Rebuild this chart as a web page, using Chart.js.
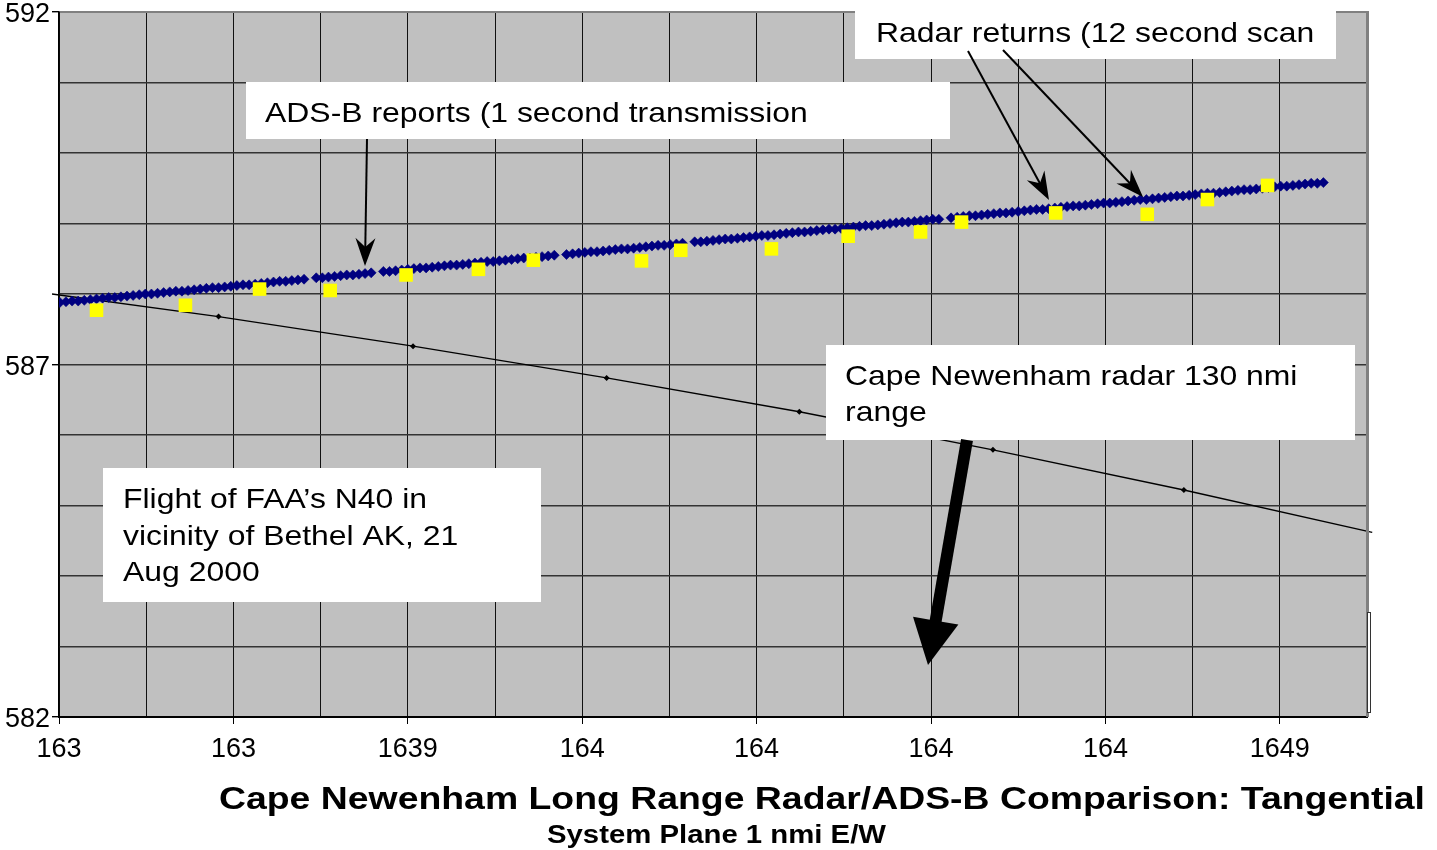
<!DOCTYPE html>
<html><head><meta charset="utf-8">
<script src="https://cdn.jsdelivr.net/npm/chart.js@4.4.1/dist/chart.umd.min.js"></script>
<style>html,body{margin:0;padding:0;background:#fff;}#wrap{width:1437px;height:850px;position:relative;}</style>
</head><body><div id="wrap"><canvas id="c"></canvas></div>
<script>
const FONT = '"Liberation Sans", Arial, Helvetica, sans-serif';

// ---- axis ticks ----
const xTickValues = [1635, 1637, 1639, 1641, 1643, 1645, 1647, 1649];
const xTickLabels = ['163', '163', '1639', '164', '164', '164', '164', '1649'];
const yTickValues = [582, 587, 592];
const yTickLabels = ['582', '587', '592'];

// ---- ADS-B reports (1 s) ----
const adsbX = [
1635.01,1635.08,1635.15,1635.22,1635.29,1635.36,1635.43,1635.50,1635.57,1635.64,
1635.71,1635.78,1635.85,1635.92,1635.99,1636.06,1636.13,1636.20,1636.27,1636.34,
1636.41,1636.48,1636.55,1636.62,1636.69,1636.76,1636.83,1636.90,1636.97,1637.04,
1637.11,1637.18,1637.25,1637.32,1637.39,1637.46,1637.53,1637.60,1637.67,1637.74,
1637.81,
1637.95,1638.02,1638.09,1638.16,1638.23,1638.30,1638.37,1638.44,1638.51,1638.58,
1638.72,1638.79,1638.86,1638.93,1639.00,1639.07,1639.14,1639.21,1639.28,1639.35,
1639.42,1639.49,1639.56,1639.63,1639.70,1639.77,1639.84,1639.91,1639.98,1640.05,
1640.12,1640.19,1640.26,1640.33,1640.40,1640.47,1640.54,1640.61,1640.68,
1640.82,1640.89,1640.96,1641.03,1641.10,1641.17,1641.24,1641.31,1641.38,1641.45,
1641.52,1641.59,1641.66,1641.73,1641.80,1641.87,1641.94,1642.01,1642.08,1642.15,
1642.29,1642.36,1642.43,1642.50,1642.57,1642.64,1642.71,1642.78,1642.85,1642.92,
1642.99,1643.06,1643.13,1643.20,1643.27,1643.34,1643.41,1643.48,1643.55,1643.62,
1643.69,1643.76,1643.83,1643.90,1643.97,1644.04,1644.11,1644.18,1644.25,1644.32,
1644.39,1644.46,1644.53,1644.60,1644.67,1644.74,1644.81,1644.88,1644.95,1645.02,
1645.09,
1645.23,1645.30,1645.37,1645.44,1645.51,1645.58,1645.65,1645.72,1645.79,1645.86,
1645.93,1646.00,1646.07,1646.14,1646.21,1646.28,1646.35,1646.42,1646.49,1646.56,
1646.63,1646.70,1646.77,1646.84,1646.91,1646.98,1647.05,1647.12,1647.19,1647.26,
1647.33,1647.40,1647.47,1647.54,1647.61,1647.68,1647.75,1647.82,1647.89,1647.96,
1648.03,1648.10,1648.17,1648.24,1648.31,1648.38,1648.45,1648.52,1648.59,1648.66,
1648.73,1648.80,1648.87,1648.94,1649.01,1649.08,1649.15,1649.22,1649.29,1649.36,
1649.43,1649.50
];
const adsbY = [
587.88,587.89,587.90,587.90,587.91,587.92,587.93,587.94,587.95,587.95,
587.96,587.97,587.98,587.99,588.00,588.00,588.01,588.02,588.03,588.04,
588.04,588.05,588.06,588.07,588.08,588.09,588.09,588.10,588.11,588.12,
588.13,588.13,588.14,588.15,588.16,588.17,588.18,588.18,588.19,588.20,
588.21,
588.23,588.23,588.24,588.25,588.26,588.27,588.27,588.28,588.29,588.30,
588.32,588.32,588.33,588.34,588.35,588.36,588.37,588.37,588.38,588.39,
588.40,588.41,588.41,588.42,588.43,588.44,588.45,588.46,588.46,588.47,
588.48,588.49,588.50,588.51,588.51,588.52,588.53,588.54,588.55,
588.56,588.57,588.58,588.59,588.60,588.60,588.61,588.62,588.63,588.64,
588.64,588.65,588.66,588.67,588.68,588.69,588.69,588.70,588.71,588.72,
588.74,588.74,588.75,588.76,588.77,588.78,588.78,588.79,588.80,588.81,
588.82,588.83,588.83,588.84,588.85,588.86,588.87,588.88,588.88,588.89,
588.90,588.91,588.92,588.92,588.93,588.94,588.95,588.96,588.97,588.97,
588.98,588.99,589.00,589.01,589.02,589.02,589.03,589.04,589.05,589.06,
589.06,
589.08,589.09,589.10,589.11,589.11,589.12,589.13,589.14,589.15,589.15,
589.16,589.17,589.18,589.19,589.20,589.20,589.21,589.22,589.23,589.24,
589.25,589.25,589.26,589.27,589.28,589.29,589.29,589.30,589.31,589.32,
589.33,589.34,589.34,589.35,589.36,589.37,589.38,589.39,589.39,589.40,
589.41,589.42,589.43,589.43,589.44,589.45,589.46,589.47,589.48,589.48,
589.49,589.50,589.51,589.52,589.53,589.53,589.54,589.55,589.56,589.57,
589.57,589.58
];

// ---- Radar returns (12 s scan) ----
const radarX = [1635.43,1636.45,1637.30,1638.11,1638.98,1639.81,1640.44,1641.68,1642.13,1643.17,1644.05,1644.88,1645.35,1646.43,1647.48,1648.17,1648.86];
const radarY = [587.77,587.84,588.07,588.05,588.27,588.35,588.48,588.47,588.62,588.64,588.82,588.88,589.02,589.15,589.13,589.34,589.54];

// ---- Cape Newenham radar 130 nmi range ----
const rangeX = [1634.92,1636.83,1639.06,1641.28,1643.49,1645.71,1647.90,1650.06];
const rangeY = [588.00,587.68,587.26,586.81,586.33,585.79,585.22,584.62];

const toPts = (xs, ys) => xs.map((x, i) => ({x: x, y: ys[i]}));

function drawText(ctx, s, x, y, size, bold, sx) {
  ctx.save();
  ctx.font = (bold ? 'bold ' : '') + size + 'px ' + FONT;
  ctx.textBaseline = 'alphabetic';
  ctx.textAlign = 'left';
  ctx.fillStyle = '#000';
  ctx.translate(x, y);
  ctx.scale(sx, 1);
  ctx.fillText(s, 0, 0);
  ctx.restore();
}
function drawTextW(ctx, s, x, y, size, bold, w) {
  ctx.save();
  ctx.font = (bold ? 'bold ' : '') + size + 'px ' + FONT;
  const m = ctx.measureText(s).width;
  ctx.restore();
  drawText(ctx, s, x, y, size, bold, w / m);
}
function arrow(ctx, x1, y1, x2, y2, lw, headLen, headHalf, notch) {
  const a = Math.atan2(y2 - y1, x2 - x1);
  const ux = Math.cos(a), uy = Math.sin(a);
  const nx = -uy, ny = ux;
  const bx = x2 - ux * headLen, by = y2 - uy * headLen;
  const kx = bx + ux * notch, ky = by + uy * notch;
  ctx.save();
  ctx.strokeStyle = '#000'; ctx.fillStyle = '#000';
  ctx.lineWidth = lw; ctx.lineCap = 'butt';
  ctx.beginPath(); ctx.moveTo(x1, y1); ctx.lineTo(kx + ux, ky + uy); ctx.stroke();
  ctx.beginPath();
  ctx.moveTo(x2, y2);
  ctx.lineTo(bx + nx * headHalf, by + ny * headHalf);
  ctx.lineTo(kx, ky);
  ctx.lineTo(bx - nx * headHalf, by - ny * headHalf);
  ctx.closePath(); ctx.fill();
  ctx.restore();
}
function box(ctx, l, t, r, b) {
  ctx.save(); ctx.fillStyle = '#fff'; ctx.fillRect(l, t, r - l, b - t); ctx.restore();
}

const overlay = {
  id: 'overlay',
  beforeDraw(chart) {
    const {ctx, chartArea: a} = chart;
    ctx.save();
    ctx.fillStyle = '#C0C0C0';
    ctx.fillRect(a.left, a.top, a.right - a.left, a.bottom - a.top);
    ctx.restore();
  },
  afterDatasetsDraw(chart) {
    const {ctx, chartArea: a} = chart;
    ctx.save();
    ctx.strokeStyle = '#808080';
    ctx.lineWidth = 2;
    ctx.beginPath(); ctx.moveTo(a.left + 1, a.top); ctx.lineTo(a.right + 2, a.top); ctx.stroke();
    ctx.lineWidth = 3;
    ctx.beginPath(); ctx.moveTo(a.right + 0.5, a.top); ctx.lineTo(a.right + 0.5, a.bottom); ctx.stroke();
    ctx.fillStyle = '#fff'; ctx.strokeStyle = '#333'; ctx.lineWidth = 1;
    ctx.fillRect(a.right + 0.5, 612.5, 3, 100); ctx.strokeRect(a.right + 0.5, 612.5, 3, 100);
    ctx.restore();

    const F = 28, SX = 1.14;
    // Radar returns box
    box(ctx, 855, -1, 1336, 59);
    drawText(ctx, 'Radar returns (12 second scan', 876, 42, F, false, SX);
    // ADS-B box
    box(ctx, 246, 82, 950, 139);
    drawText(ctx, 'ADS-B reports (1 second transmission', 265, 122, F, false, SX);
    // Cape Newenham box
    box(ctx, 826, 345, 1355, 440);
    drawText(ctx, 'Cape Newenham radar 130 nmi', 845, 385, F, false, SX);
    drawText(ctx, 'range', 845, 421, F, false, SX);
    // Flight box
    box(ctx, 103, 468, 541, 602);
    drawText(ctx, 'Flight of FAA\u2019s N40 in', 123, 508, F, false, SX);
    drawText(ctx, 'vicinity of Bethel AK, 21', 123, 545, F, false, SX);
    drawText(ctx, 'Aug 2000', 123, 581, F, false, SX);

    // arrows
    arrow(ctx, 367, 139, 365, 266, 2, 28, 10, 9);
    arrow(ctx, 968, 51, 1049, 200, 2, 28, 10, 9);
    arrow(ctx, 1003, 50, 1143, 197, 2, 28, 10, 9);
    arrow(ctx, 967, 440, 928, 665, 12, 45, 23, 0);

    // titles
    drawTextW(ctx, 'Cape Newenham Long Range Radar/ADS-B Comparison: Tangential', 219, 809, 32, true, 1206);
    drawTextW(ctx, 'System Plane 1 nmi E/W', 547, 843, 25.5, true, 339);
  }
};

new Chart(document.getElementById('c'), {
  type: 'scatter',
  data: {
    datasets: [
      {
        label: 'Radar returns (12 second scan)',
        data: toPts(radarX, radarY),
        pointStyle: 'rect', pointRadius: 9.6, pointHoverRadius: 9.6,
        backgroundColor: '#FFFF00', borderWidth: 0, order: 0
      },
      {
        label: 'ADS-B reports (1 second transmission)',
        data: toPts(adsbX, adsbY),
        pointStyle: 'rectRot', pointRadius: 5, pointHoverRadius: 5,
        backgroundColor: '#000080', borderColor: '#000080', borderWidth: 0.6, order: 1
      },
      {
        label: 'Cape Newenham radar 130 nmi range',
        type: 'line',
        data: toPts(rangeX, rangeY),
        borderColor: '#000', borderWidth: 1.3, fill: false, tension: 0,
        pointStyle: 'rectRot',
        pointRadius: c => (c.dataIndex === 0 || c.dataIndex === rangeX.length - 1) ? 0 : 3,
        pointBackgroundColor: '#000', pointBorderWidth: 0,
        clip: false, order: 2
      }
    ]
  },
  options: {
    responsive: true, maintainAspectRatio: false, animation: false, events: [],
    layout: {padding: {top: 12, right: 70, left: 0, bottom: 0}},
    plugins: {legend: {display: false}, tooltip: {enabled: false}, title: {display: false}},
    scales: {
      x: {
        type: 'linear', position: 'bottom', min: 1635, max: 1650,
        ticks: {
          stepSize: 1, autoSkip: false, maxRotation: 0, minRotation: 0, padding: 9,
          color: '#000', font: {family: FONT, size: 27},
          callback: v => { const i = xTickValues.indexOf(v); return i >= 0 ? xTickLabels[i] : ''; }
        },
        grid: {
          color: '#111', lineWidth: 1, tickLength: 7,
          tickColor: c => (c.tick && xTickValues.indexOf(c.tick.value) >= 0) ? '#000' : 'rgba(0,0,0,0)'
        },
        border: {color: '#000', width: 2},
        afterFit: s => { s.height = 133; s.paddingLeft = 0; s.paddingRight = 0; }
      },
      y: {
        type: 'linear', position: 'left', min: 582, max: 592,
        ticks: {
          stepSize: 1, autoSkip: false, padding: 2, labelOffset: 3,
          color: '#000', font: {family: FONT, size: 27},
          callback: v => { const i = yTickValues.indexOf(v); return i >= 0 ? yTickLabels[i] : ''; }
        },
        grid: {
          color: '#333', lineWidth: 1.4, tickLength: 7,
          tickColor: c => (c.tick && yTickValues.indexOf(c.tick.value) >= 0) ? '#000' : 'rgba(0,0,0,0)'
        },
        border: {color: '#000', width: 1.5},
        afterFit: s => { s.width = 59; s.paddingTop = 0; s.paddingBottom = 0; }
      }
    }
  },
  plugins: [overlay]
});
</script>
</body></html>
